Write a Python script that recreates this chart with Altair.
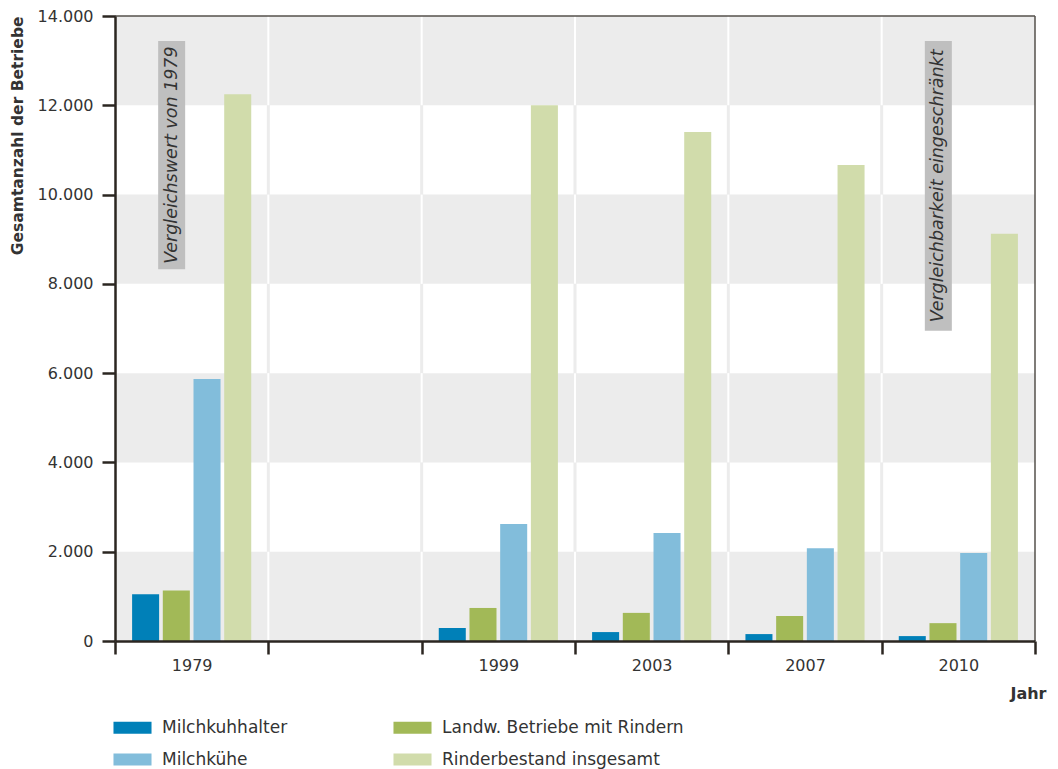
import altair as alt
import pandas as pd

# --- Werte ---------------------------------------------------------------
jahre = ["1979", " ", "1999", "2003", "2007", "2010"]          # x-Kategorien (eine Leerspalte)
daten_jahre = ["1979", "1999", "2003", "2007", "2010"]
serien = ["Milchkuhhalter", "Landw. Betriebe mit Rindern", "Milchkühe", "Rinderbestand insgesamt"]

milchkuhhalter = [1050, 290, 200, 155, 110]
landw_betriebe = [1130, 740, 630, 560, 400]
milchkuehe = [5870, 2620, 2420, 2080, 1970]
rinderbestand = [12250, 12000, 11400, 10660, 9120]

farben = ["#0080b8", "#a2b957", "#82bddb", "#d1dcab"]

y_ticks = [0, 2000, 4000, 6000, 8000, 10000, 12000, 14000]
band_unten = [0, 4000, 8000, 12000]
band_oben = [2000, 6000, 10000, 14000]

hinweis_jahre = ["1979", "2010"]
hinweis_texte = ["Vergleichswert von 1979", "Vergleichbarkeit eingeschränkt"]
hinweis_oben = [13440, 13440]
hinweis_unten = [8330, 6950]

# --- Tabellen --------------------------------------------------------------
reihen = [milchkuhhalter, landw_betriebe, milchkuehe, rinderbestand]
balken = pd.DataFrame(
    [
        {"Jahr": j, "Serie": s, "Wert": werte[i]}
        for s, werte in zip(serien, reihen)
        for i, j in enumerate(daten_jahre)
    ]
)
baender = pd.DataFrame({"unten": band_unten, "oben": band_oben})
grenzen = jahre[1:]
linien_voll = pd.DataFrame({"Jahr": grenzen, "unten": 0, "oben": 14000})
linien_weiss = pd.DataFrame(
    [{"Jahr": g, "unten": u, "oben": o} for g in grenzen for u, o in zip(band_unten, band_oben)]
)
hinweise = pd.DataFrame(
    {
        "Jahr": hinweis_jahre,
        "Text": hinweis_texte,
        "oben": hinweis_oben,
        "unten": hinweis_unten,
    }
)
hinweise["mitte"] = (hinweise["oben"] + hinweise["unten"]) / 2

# --- Stil ------------------------------------------------------------------
FONT = "DejaVu Sans"
DUNKEL = "#2b2621"
TEXT = "#333333"
W, H = 920, 625

x_scale = alt.Scale(domain=jahre, paddingInner=0, paddingOuter=0)
y_scale = alt.Scale(domain=[0, 14000], nice=False, zero=True)

x_axis = alt.Axis(
    title="Jahr",
    labelAngle=0,
    labelFont=FONT,
    labelFontSize=16,
    labelColor=TEXT,
    labelPadding=3,
    tickBand="extent",
    tickSize=13,
    tickWidth=2.5,
    tickColor=DUNKEL,
    domainColor=DUNKEL,
    domainWidth=2.5,
    grid=False,
    titleFont=FONT,
    titleFontSize=16,
    titleFontWeight="bold",
    titleColor=TEXT,
    titleX=931,
    titleY=52,
    titleAlign="right",
    titleBaseline="middle",
    zindex=1,
)
y_axis = alt.Axis(
    title="Gesamtanzahl der Betriebe",
    values=y_ticks,
    labelExpr="replace(format(datum.value, ','), ',', '.')",
    labelFont=FONT,
    labelFontSize=16,
    labelColor=TEXT,
    labelPadding=9,
    tickSize=13,
    tickWidth=2.5,
    tickColor=DUNKEL,
    domainColor=DUNKEL,
    domainWidth=2.5,
    grid=False,
    titleFont=FONT,
    titleFontSize=15.5,
    titleFontWeight="bold",
    titleColor=TEXT,
    titleAnchor="end",
    titlePadding=12,
    zindex=1,
)


def x_enc(**kw):
    return alt.X("Jahr:N", scale=x_scale, axis=x_axis, sort=jahre, **kw)


def y_enc(feld):
    return alt.Y(feld, scale=y_scale, axis=y_axis)


# graue Querbänder
flaechen = alt.Chart(baender).mark_rect(color="#ececec").encode(
    x=alt.value(0), x2=alt.value(W), y=y_enc("oben:Q"), y2="unten:Q"
)

# senkrechte Trennlinien zwischen den Jahren
trenner_grau = alt.Chart(linien_voll).mark_rule(color="#ececec", strokeWidth=3).encode(
    x=x_enc(bandPosition=0), y=y_enc("oben:Q"), y2="unten:Q"
)
trenner_weiss = alt.Chart(linien_weiss).mark_rule(color="#ffffff", strokeWidth=2).encode(
    x=x_enc(bandPosition=0), y=y_enc("oben:Q"), y2="unten:Q"
)

# gruppierte Säulen
legende = alt.Legend(
    title=None,
    orient="none",
    direction="horizontal",
    legendX=9,
    legendY=703,
    columns=2,
    padding=0,
    symbolType="M-3.17,-1H3.17V1H-3.17Z",
    symbolSize=144,
    symbolStrokeWidth=0,
    symbolOpacity=1,
    labelFont=FONT,
    labelFontSize=17,
    labelColor=TEXT,
    labelOffset=21,
    labelLimit=400,
    columnPadding=105,
    rowPadding=14,
)
saeulen = alt.Chart(balken).mark_bar().encode(
    x=x_enc(),
    xOffset=alt.XOffset(
        "Serie:N", sort=serien, scale=alt.Scale(domain=serien, paddingInner=0.12, paddingOuter=0.557)
    ),
    y=y_enc("Wert:Q"),
    color=alt.Color("Serie:N", sort=serien, scale=alt.Scale(domain=serien, range=farben), legend=legende),
)

# Hinweiskästen mit senkrechtem Text
kaesten = alt.Chart(hinweise).mark_bar(width=27, xOffset=-20, color="#bfbfbf").encode(
    x=x_enc(), y=y_enc("oben:Q"), y2="unten:Q"
)
beschriftung = alt.Chart(hinweise).mark_text(
    angle=270,
    xOffset=-20,
    align="center",
    baseline="middle",
    font=FONT,
    fontSize=17.5,
    fontStyle="italic",
    color=TEXT,
).encode(x=x_enc(), y=y_enc("mitte:Q"), text="Text:N")

# Rahmen oben und rechts
rahmen_oben = alt.Chart(hinweise.head(1)).mark_rule(color="#55504b", strokeWidth=1.5).encode(
    x=alt.value(0), x2=alt.value(W), y=alt.value(0)
)
rahmen_rechts = alt.Chart(hinweise.head(1)).mark_rule(color="#55504b", strokeWidth=1.5).encode(
    x=alt.value(W), y=alt.value(0), y2=alt.value(H)
)

chart = (
    alt.layer(
        flaechen, trenner_grau, trenner_weiss, saeulen, kaesten, beschriftung, rahmen_oben, rahmen_rechts
    )
    .properties(
        width=W,
        height=H,
        padding={"left": 115, "top": 16, "right": 23, "bottom": 128},
        autosize=alt.AutoSizeParams(type="none"),
        background="#ffffff",
    )
    .configure_view(stroke=None)
)

chart.save("out.html", embed_options={"renderer": "svg", "actions": False})
